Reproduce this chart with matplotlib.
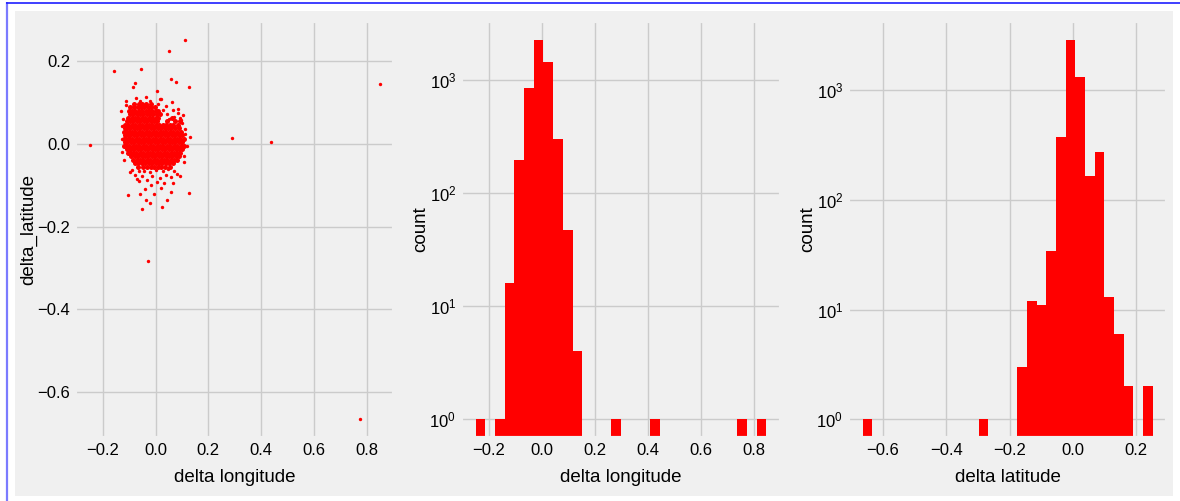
import numpy as np
import matplotlib
matplotlib.use('Agg')
from matplotlib import pyplot as plt
from matplotlib.patches import Rectangle
from matplotlib.lines import Line2D
from matplotlib.ticker import MultipleLocator

plt.style.use('fivethirtyeight')
plt.rcParams['font.family'] = ['Liberation Sans', 'DejaVu Sans']
plt.rcParams['mathtext.fontset'] = 'custom'
plt.rcParams['mathtext.rm'] = 'Liberation Sans'
plt.rcParams['mathtext.it'] = 'Liberation Sans:italic'
plt.rcParams['mathtext.bf'] = 'Liberation Sans:bold'

# --- data ---
# sparse / outlying points of the scatter (lon, lat)
outlier_lon = [-0.25, -0.156, -0.056, 0.111, 0.0525, 0.059, 0.079, 0.1275, 0.291, 0.435,
               0.8475, 0.772, -0.030, -0.079, -0.087, 0.004, 0.125, -0.105, -0.059, -0.0525,
               0.026, 0.0575, 0.020, 0.045, -0.036, -0.020, -0.040, -0.0075, -0.095, -0.070,
               0.094, -0.130, -0.111, 0.015, 0.065, 0.085, 0.131, 0.061]
outlier_lat = [-0.002, 0.177, 0.182, 0.252, 0.225, 0.157, 0.151, 0.139, 0.015, 0.006,
               0.145, -0.665, -0.282, 0.148, 0.139, 0.128, -0.118, -0.124, -0.121, -0.156,
               -0.153, -0.115, -0.106, -0.135, -0.134, -0.142, -0.108, -0.120, -0.067, -0.084,
               -0.076, 0.079, 0.105, 0.108, 0.082, 0.085, 0.018, 0.103]

# loose dots around the dense blob
fringe_lon = [-0.088, -0.064, -0.043, -0.021, 0.002, 0.027, 0.048, 0.071, -0.077, -0.052,
              -0.012, 0.016, 0.039, 0.060, -0.031, 0.005, 0.032, -0.061, 0.082, 0.066,
              -0.016, -0.128, -0.127, -0.126, 0.113, 0.118, 0.108, 0.101, 0.104, 0.094,
              0.085, 0.098, -0.112, -0.060, -0.022, -0.035, -0.074, 0.010, 0.028, 0.045,
              0.040, 0.020, 0.052, 0.070, 0.088, -0.124, -0.119, 0.111, 0.107]
fringe_lat = [-0.062, -0.066, -0.064, -0.068, -0.063, -0.065, -0.061, -0.064, -0.074, -0.078,
              -0.076, -0.082, -0.074, -0.079, -0.086, -0.091, -0.093, -0.090, -0.072, -0.095,
              -0.098, 0.045, 0.012, -0.020, 0.025, -0.005, -0.028, 0.050, 0.070, 0.064,
              0.076, 0.058, 0.094, 0.105, 0.104, 0.115, 0.112, 0.097, 0.083, 0.072,
              0.092, 0.108, 0.060, 0.066, 0.044, 0.062, -0.038, 0.036, -0.044]

# dense blob, row by row (latitude of the row, longitudes in the row)
blob_rows_lat = [0.098, 0.0895, 0.081, 0.0725, 0.064, 0.0555, 0.047, 0.0385, 0.030, 0.0215,
                 0.013, 0.0045, -0.004, -0.0125, -0.021, -0.0295, -0.038, -0.0465, -0.055]
blob_rows_lon = [
    [-0.083, -0.064, -0.050, -0.036, -0.018],
    [-0.095, -0.081, -0.068, -0.056, -0.043, -0.030, -0.017, -0.002],
    [-0.101, -0.089, -0.076, -0.063, -0.050, -0.038, -0.025, -0.012, 0.001, 0.011],
    [-0.098, -0.085, -0.072, -0.059, -0.046, -0.033, -0.021, -0.008, 0.005, 0.017],
    [-0.104, -0.091, -0.078, -0.065, -0.052, -0.039, -0.026, -0.013, 0.000, 0.010, 0.062],
    [-0.108, -0.097, -0.084, -0.071, -0.058, -0.045, -0.032, -0.019, -0.006, 0.007,
     0.044, 0.074, 0.091],
    [-0.114, -0.103, -0.090, -0.077, -0.064, -0.051, -0.038, -0.025, -0.012, 0.001, 0.014,
     0.027, 0.040, 0.053, 0.066, 0.086],
    [-0.117, -0.109, -0.096, -0.083, -0.070, -0.057, -0.044, -0.031, -0.018, -0.005, 0.008,
     0.021, 0.034, 0.047, 0.060, 0.073, 0.090],
    [-0.121, -0.112, -0.102, -0.089, -0.076, -0.063, -0.050, -0.037, -0.024, -0.011, 0.002,
     0.015, 0.028, 0.041, 0.054, 0.067, 0.080, 0.096],
    [-0.116, -0.106, -0.095, -0.082, -0.069, -0.056, -0.043, -0.030, -0.017, -0.004, 0.009,
     0.022, 0.035, 0.048, 0.061, 0.074, 0.087, 0.101],
    [-0.119, -0.112, -0.101, -0.088, -0.075, -0.062, -0.049, -0.036, -0.023, -0.010, 0.003,
     0.016, 0.029, 0.042, 0.055, 0.068, 0.081, 0.094, 0.109],
    [-0.115, -0.107, -0.094, -0.081, -0.068, -0.055, -0.042, -0.029, -0.016, -0.003, 0.010,
     0.023, 0.036, 0.049, 0.062, 0.075, 0.088, 0.100],
    [-0.118, -0.111, -0.100, -0.087, -0.074, -0.061, -0.048, -0.035, -0.022, -0.009, 0.004,
     0.017, 0.030, 0.043, 0.056, 0.069, 0.082, 0.095, 0.106],
    [-0.108, -0.104, -0.093, -0.080, -0.067, -0.054, -0.041, -0.028, -0.015, -0.002, 0.011,
     0.024, 0.037, 0.050, 0.063, 0.076, 0.089, 0.099],
    [-0.103, -0.097, -0.086, -0.073, -0.060, -0.047, -0.034, -0.021, -0.008, 0.005, 0.018,
     0.031, 0.044, 0.057, 0.070, 0.083, 0.093],
    [-0.093, -0.079, -0.066, -0.053, -0.040, -0.027, -0.014, -0.001, 0.012, 0.025,
     0.038, 0.051, 0.064, 0.077, 0.090],
    [-0.087, -0.072, -0.059, -0.046, -0.033, -0.020, -0.007, 0.006, 0.019, 0.032,
     0.045, 0.058, 0.071, 0.080],
    [-0.079, -0.065, -0.052, -0.039, -0.026, -0.013, 0.000, 0.013, 0.026, 0.039,
     0.052, 0.066],
    [-0.066, -0.049, -0.034, -0.019, -0.006, 0.009, 0.022, 0.037, 0.055],
]

# histogram counts, 30 equal bins between min and max
lon_min, lon_max = -0.25, 0.8475
lon_counts = [1, 0, 1, 16, 193, 834, 2238, 1418, 301, 47, 4, 0, 0, 0, 1,
              0, 0, 0, 1, 0, 0, 0, 0, 0, 0, 0, 0, 1, 0, 1]
lat_min, lat_max = -0.665, 0.252
lat_counts = [1, 0, 0, 0, 0, 0, 0, 0, 0, 0, 0, 0, 1, 0, 0,
              0, 3, 12, 11, 34, 373, 2890, 1328, 165, 275, 13, 6, 2, 0, 2]

# --- assemble scatter points ---
blob_lon, blob_lat = [], []
for lat, row in zip(blob_rows_lat, blob_rows_lon):
    blob_lon += row
    blob_lat += [lat] * len(row)
sparse_lon = np.array(outlier_lon + fringe_lon)
sparse_lat = np.array(outlier_lat + fringe_lat)

W, H = 1180, 501
fig = plt.figure(figsize=(W / 100, H / 100), dpi=100, facecolor='white')

# notebook-ish frame: grey panel + blue cell border
fig.add_artist(Rectangle((15 / W, 5 / H), 1158 / W, 485 / H, transform=fig.transFigure,
                         facecolor='#f0f0f0', edgecolor='none', zorder=-10))
fig.add_artist(Line2D([7 / W, 7 / W], [0, 1 - 2 / H], transform=fig.transFigure,
                      color='#7b7bff', lw=1.6, solid_capstyle='butt'))
fig.add_artist(Line2D([6 / W, 1], [1 - 2.5 / H, 1 - 2.5 / H], transform=fig.transFigure,
                      color='#1f1fff', lw=1.2, solid_capstyle='butt'))


def px_axes(x0, x1, y0, y1):
    return fig.add_axes([x0 / W, 1 - y1 / H, (x1 - x0) / W, (y1 - y0) / H])


ax1 = px_axes(75, 394, 21, 438)
ax2 = px_axes(461, 781, 21, 438)
ax3 = px_axes(848, 1167, 21, 438)

ax1.scatter(blob_lon, blob_lat, s=13, color='red', linewidths=0)
ax1.scatter(sparse_lon, sparse_lat, s=6, color='red', linewidths=0)
ax1.set_xlabel('delta longitude', fontsize=13.5)
ax1.set_ylabel('delta_latitude', fontsize=13.5)

lon_edges = np.histogram_bin_edges([], bins=30, range=(lon_min, lon_max))
ax2.hist(lon_edges[:-1], bins=lon_edges, weights=lon_counts, log=True, color='red', linewidth=0)
ax2.set_xlabel('delta longitude', fontsize=13.5)
ax2.set_ylabel('count', fontsize=13.5)

lat_edges = np.histogram_bin_edges([], bins=30, range=(lat_min, lat_max))
ax3.hist(lat_edges[:-1], bins=lat_edges, weights=lat_counts, log=True, color='red', linewidth=0)
ax3.set_xlabel('delta latitude', fontsize=13.5)
ax3.set_ylabel('count', fontsize=13.5)

for ax in (ax1, ax2, ax3):
    ax.set_facecolor('#f0f0f0')
    ax.tick_params(labelsize=12)
    ax.xaxis.set_major_locator(MultipleLocator(0.2))
    ax.minorticks_off()
    ax.xaxis.labelpad = 8
    ax.yaxis.labelpad = 0
ax1.yaxis.set_major_locator(MultipleLocator(0.2))

plt.savefig('out.png', dpi=100, facecolor=fig.get_facecolor())
